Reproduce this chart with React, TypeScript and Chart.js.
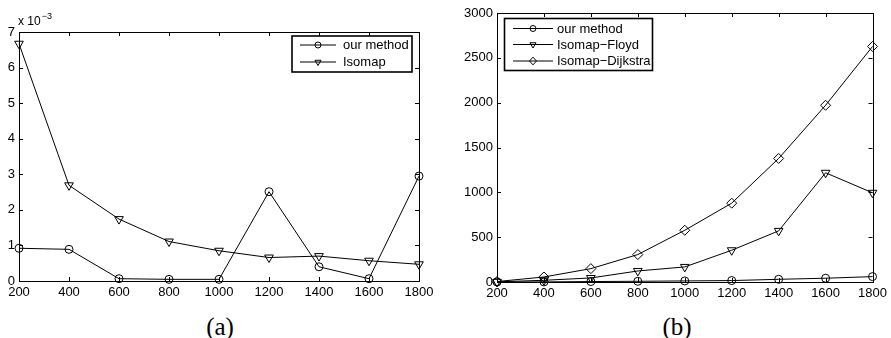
import React, { useEffect, useRef } from "react";
import { Chart, registerables } from "chart.js";

Chart.register(...registerables);

// ---- data ----
const nodeCounts = [200, 400, 600, 800, 1000, 1200, 1400, 1600, 1800];
const xTickValues = [200, 400, 600, 800, 1000, 1200, 1400, 1600, 1800];

// (a) error, in units of 10^-3
const errorOurMethod = [0.92, 0.89, 0.065, 0.047, 0.047, 2.51, 0.4, 0.065, 2.95];
const errorIsomap = [6.67, 2.69, 1.74, 1.11, 0.85, 0.66, 0.7, 0.57, 0.47];
const yTicksA = [0, 1, 2, 3, 4, 5, 6, 7];

// (b) running time
const timeOurMethod = [0, 1, 5, 8, 12, 16, 30, 42, 60];
const timeIsomapFloyd = [2, 19, 45, 123, 168, 354, 570, 1218, 995];
const timeIsomapDijkstra = [5, 56, 149, 306, 577, 879, 1378, 1971, 2627];
const yTicksB = [0, 500, 1000, 1500, 2000, 2500, 3000];

const seriesLabelsA = ["our method", "Isomap"];
const seriesLabelsB = ["our method", "Isomap\u2212Floyd", "Isomap\u2212Dijkstra"];

const FONT = '"Liberation Sans", Arial, Helvetica, sans-serif';

type Marker = "circle" | "tri" | "diamond";

function drawMarker(ctx: CanvasRenderingContext2D, kind: Marker, x: number, y: number, r: number) {
  ctx.beginPath();
  if (kind === "circle") {
    ctx.arc(x, y, r, 0, Math.PI * 2);
  } else if (kind === "tri") {
    const h = r;
    ctx.moveTo(x - h * 0.87, y - h * 0.5);
    ctx.lineTo(x + h * 0.87, y - h * 0.5);
    ctx.lineTo(x, y + h);
    ctx.closePath();
  } else {
    ctx.moveTo(x - r, y);
    ctx.lineTo(x, y - r * 1.1);
    ctx.lineTo(x + r, y);
    ctx.lineTo(x, y + r * 1.1);
    ctx.closePath();
  }
  ctx.stroke();
}

const matlabPlugin = {
  id: "matlabFrame",
  beforeDatasetsDraw(chart: any) {
    const { ctx, chartArea, scales } = chart;
    const { left, right, top, bottom } = chartArea;
    const L = 4;
    ctx.save();
    ctx.strokeStyle = "#000";
    ctx.lineWidth = 1;
    ctx.beginPath();
    scales.x.ticks.forEach((t: any) => {
      const px = Math.round(scales.x.getPixelForValue(t.value)) + 0.5;
      ctx.moveTo(px, bottom);
      ctx.lineTo(px, bottom - L);
      ctx.moveTo(px, top);
      ctx.lineTo(px, top + L);
    });
    scales.y.ticks.forEach((t: any) => {
      const py = Math.round(scales.y.getPixelForValue(t.value)) + 0.5;
      ctx.moveTo(left, py);
      ctx.lineTo(left + L, py);
      ctx.moveTo(right, py);
      ctx.lineTo(right - L, py);
    });
    ctx.stroke();
    ctx.strokeRect(Math.round(left) + 0.5, Math.round(top) + 0.5, Math.round(right - left), Math.round(bottom - top));
    ctx.restore();
  },
  afterDatasetsDraw(chart: any, _args: any, opts: any) {
    const { ctx } = chart;
    const lg = opts.legend;
    if (!lg) return;
    ctx.save();
    ctx.fillStyle = "#fff";
    ctx.fillRect(lg.x, lg.y, lg.w, lg.h);
    ctx.strokeStyle = "#000";
    ctx.lineWidth = 1.6;
    ctx.strokeRect(lg.x, lg.y, lg.w, lg.h);
    ctx.lineWidth = 1;
    ctx.font = "13px " + FONT;
    ctx.textBaseline = "middle";
    ctx.fillStyle = "#000";
    chart.data.datasets.forEach((ds: any, i: number) => {
      const ry = lg.rowY[i];
      ctx.beginPath();
      ctx.moveTo(lg.lineX1, ry);
      ctx.lineTo(lg.lineX2, ry);
      ctx.stroke();
      drawMarker(ctx, ds.marker, (lg.lineX1 + lg.lineX2) / 2, ry, ds.marker === "circle" ? 3 : 3.5);
      ctx.fillText(ds.label, lg.textX, ry + 0.5);
    });
    ctx.restore();
  },
  afterDraw(chart: any, _args: any, opts: any) {
    if (!opts.exponent) return;
    const { ctx, chartArea } = chart;
    ctx.save();
    ctx.fillStyle = "#000";
    ctx.textBaseline = "alphabetic";
    ctx.font = "12px " + FONT;
    const x0 = chartArea.left - 1;
    const y0 = chartArea.top - 7;
    ctx.fillText("x 10", x0, y0);
    const w = ctx.measureText("x 10").width;
    ctx.font = "9px " + FONT;
    ctx.fillText("\u22123", x0 + w + 1, y0 - 6);
    ctx.restore();
  },
};

function makeDataset(label: string, data: number[], marker: Marker) {
  const style = marker === "circle" ? "circle" : marker === "tri" ? "triangle" : "rectRot";
  return {
    label,
    data,
    marker,
    borderColor: "#000",
    borderWidth: 1,
    pointStyle: style,
    pointRotation: marker === "tri" ? 180 : 0,
    pointRadius: marker === "circle" ? 4 : marker === "tri" ? 5 : 5,
    pointHoverRadius: 5,
    pointBorderColor: "#000",
    pointBackgroundColor: "rgba(0,0,0,0)",
    pointBorderWidth: 1,
    tension: 0,
    fill: false,
    clip: false as any,
  };
}

function makeOptions(opts: {
  yMin: number;
  yMax: number;
  yTicks: number[];
  yWidth: number;
  xHeight: number;
  padTop: number;
  padRight: number;
  legend: any;
  exponent: boolean;
}) {
  const tickFont = { family: FONT, size: 13 };
  return {
    responsive: false,
    animation: false as const,
    events: [] as any[],
    layout: { padding: { top: opts.padTop, right: opts.padRight, left: 0, bottom: 0 } },
    plugins: {
      legend: { display: false },
      tooltip: { enabled: false },
      matlabFrame: { legend: opts.legend, exponent: opts.exponent },
    },
    scales: {
      x: {
        type: "linear" as const,
        min: 200,
        max: 1800,
        afterBuildTicks: (scale: any) => {
          scale.ticks = xTickValues.map((v) => ({ value: v }));
        },
        afterFit: (scale: any) => {
          scale.height = opts.xHeight;
        },
        grid: { display: false, drawTicks: false },
        border: { display: false },
        ticks: {
          color: "#000",
          font: tickFont,
          padding: 4,
          autoSkip: false,
          maxRotation: 0,
          minRotation: 0,
          callback: (v: any) => String(v),
        },
      },
      y: {
        type: "linear" as const,
        min: opts.yMin,
        max: opts.yMax,
        afterBuildTicks: (scale: any) => {
          scale.ticks = opts.yTicks.map((v) => ({ value: v }));
        },
        afterFit: (scale: any) => {
          scale.width = opts.yWidth;
        },
        grid: { display: false, drawTicks: false },
        border: { display: false },
        ticks: {
          color: "#000",
          font: tickFont,
          padding: 4,
          autoSkip: false,
          callback: (v: any) => String(v),
        },
      },
    },
  };
}

export default function App() {
  const refA = useRef<HTMLCanvasElement>(null);
  const refB = useRef<HTMLCanvasElement>(null);

  useEffect(() => {
    const chartA = new Chart(refA.current as HTMLCanvasElement, {
      type: "line",
      data: {
        labels: nodeCounts,
        datasets: [
          makeDataset(seriesLabelsA[0], errorOurMethod, "circle"),
          makeDataset(seriesLabelsA[1], errorIsomap, "tri"),
        ].map((d) => ({ ...d, data: d.data.map((v, i) => ({ x: nodeCounts[i], y: v })) })) as any,
      },
      options: makeOptions({
        yMin: 0,
        yMax: 7,
        yTicks: yTicksA,
        yWidth: 19,
        xHeight: 19,
        padTop: 32,
        padRight: 26,
        exponent: true,
        legend: { x: 292, y: 36, w: 120, h: 36, lineX1: 300, lineX2: 336, textX: 343, rowY: [45, 62] },
      }) as any,
      plugins: [matlabPlugin as any],
    });

    const chartB = new Chart(refB.current as HTMLCanvasElement, {
      type: "line",
      data: {
        labels: nodeCounts,
        datasets: [
          makeDataset(seriesLabelsB[0], timeOurMethod, "circle"),
          makeDataset(seriesLabelsB[1], timeIsomapFloyd, "tri"),
          makeDataset(seriesLabelsB[2], timeIsomapDijkstra, "diamond"),
        ].map((d) => ({ ...d, data: d.data.map((v, i) => ({ x: nodeCounts[i], y: v })) })) as any,
      },
      options: makeOptions({
        yMin: 0,
        yMax: 3000,
        yTicks: yTicksB,
        yWidth: 52,
        xHeight: 18,
        padTop: 13,
        padRight: 15,
        exponent: false,
        legend: { x: 59.5, y: 18.5, w: 148, h: 52, lineX1: 68, lineX2: 108, textX: 112, rowY: [28.5, 44.5, 61] },
      }) as any,
      plugins: [matlabPlugin as any],
    });

    return () => {
      chartA.destroy();
      chartB.destroy();
    };
  }, []);

  const caption: React.CSSProperties = {
    position: "absolute",
    top: 312,
    fontFamily: '"Liberation Serif", "Times New Roman", serif',
    fontSize: 25,
    lineHeight: "30px",
    color: "#000",
    transform: "translateX(-50%)",
    whiteSpace: "nowrap",
  };

  return (
    <div
      style={{
        position: "absolute",
        left: 0,
        top: 0,
        width: 891,
        height: 338,
        background: "#fff",
        overflow: "hidden",
      }}
    >
      <canvas
        ref={refA}
        width={445}
        height={300}
        style={{ position: "absolute", left: 0, top: 0, width: 445, height: 300 }}
      />
      <canvas
        ref={refB}
        width={446}
        height={300}
        style={{ position: "absolute", left: 445, top: 0, width: 446, height: 300 }}
      />
      <div style={{ ...caption, left: 220 }}>(a)</div>
      <div style={{ ...caption, left: 677 }}>(b)</div>
    </div>
  );
}
